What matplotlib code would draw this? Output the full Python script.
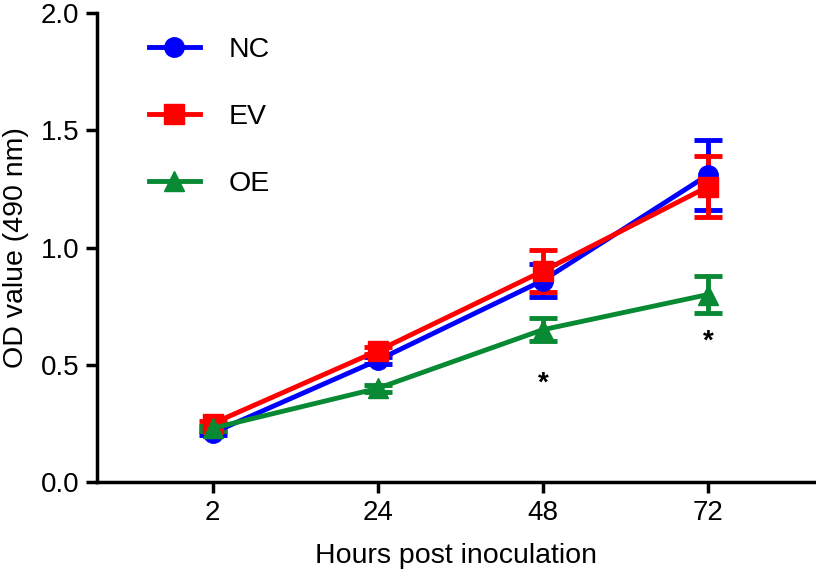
import matplotlib
matplotlib.use("Agg")
import matplotlib.pyplot as plt
import numpy as np

plt.rcParams['font.family'] = ['Liberation Sans', 'DejaVu Sans']

hours = ["2", "24", "48", "72"]
series_names = ["NC", "EV", "OE"]
nc_mean = [0.21, 0.52, 0.86, 1.31]
nc_err = [0.01, 0.015, 0.07, 0.15]
ev_mean = [0.25, 0.56, 0.90, 1.26]
ev_err = [0.01, 0.015, 0.09, 0.13]
oe_mean = [0.23, 0.40, 0.65, 0.80]
oe_err = [0.01, 0.015, 0.05, 0.08]
star_pos = [2, 3]
star_y = [0.42, 0.60]

colors = ["#0000ff", "#ff0000", "#078a33"]
markers = ["o", "s", "^"]

fig = plt.figure(figsize=(8.16, 5.76), dpi=100)
ax = fig.add_axes([0.119, 0.163, 0.880, 0.814])

x = np.arange(len(hours))
handles = []
for name, m, e, c, mk in zip(series_names, [nc_mean, ev_mean, oe_mean],
                              [nc_err, ev_err, oe_err], colors, markers):
    cont = ax.errorbar(x, m, yerr=e, color=c, marker=mk, markersize=14 if mk != "^" else 15,
                       linewidth=3.5, elinewidth=3.5, capsize=10, capthick=3.5, label=name)
    handles.append(cont.lines[0])

for sx, sy in zip(star_pos, star_y):
    ax.text(sx, sy, "*", ha="center", va="center", fontsize=20, fontweight="bold")

ax.set_xlim(-0.70, 3.65)
ax.set_ylim(0, 2.0)
ax.set_xticks(x)
ax.set_xticklabels(hours)
ax.set_yticks([0.0, 0.5, 1.0, 1.5, 2.0])
ax.set_yticklabels(["0.0", "0.5", "1.0", "1.5", "2.0"])
for s in ["top", "right"]:
    ax.spines[s].set_visible(False)
for s in ["left", "bottom"]:
    ax.spines[s].set_linewidth(2.5)
ax.tick_params(axis="both", width=2.5, length=8, labelsize=20, direction="out", pad=5)
ax.set_xlabel("Hours post inoculation", fontsize=20.5, labelpad=12)
ax.set_ylabel("OD value (490 nm)", fontsize=20.5, labelpad=8)

leg = ax.legend(handles, series_names, loc="upper left", bbox_to_anchor=(0.036, 1.005),
                frameon=False, fontsize=20.5, handlelength=1.8, labelspacing=1.45,
                handletextpad=1.0)

fig.savefig("out.png", dpi=100)
